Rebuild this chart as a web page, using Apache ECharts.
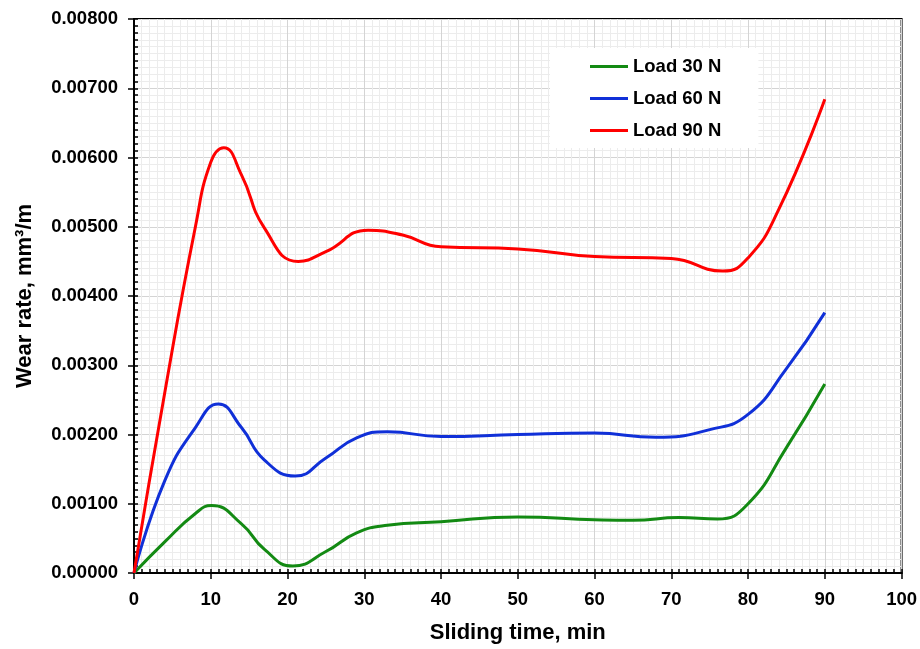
<!DOCTYPE html>
<html>
<head>
<meta charset="utf-8">
<script src="https://cdn.jsdelivr.net/npm/echarts@6/dist/echarts.min.js"></script>
<style>
  html, body { margin: 0; padding: 0; background: #fff; }
  #wearChart { width: 920px; height: 649px; }
</style>
</head>
<body>
<div id="wearChart"></div>
<script>
  // sliding time (min) and wear rate (mm3/m)
  var time30 = [0, 4, 8, 10.1, 14, 17, 20.7, 25, 29, 33, 40, 50, 60, 65, 71, 76, 80, 85, 90];
  var load30 = [0, 0.00045, 0.00086, 0.000975, 0.00071, 0.00034, 0.00010, 0.00031, 0.00058, 0.00069, 0.00074, 0.00081, 0.00077, 0.00076, 0.00080, 0.00078, 0.00100, 0.00181, 0.00273];
  var time60 = [0, 4, 8, 11, 14, 17, 21, 25, 29, 33, 40, 50, 60, 68, 75, 80, 85, 90];
  var load60 = [0, 0.00133, 0.00210, 0.00244, 0.00210, 0.00163, 0.00140, 0.00166, 0.00195, 0.00204, 0.00197, 0.00200, 0.00202, 0.00196, 0.00207, 0.00229, 0.00295, 0.00376];
  var time90 = [0, 4, 8, 10, 11.7, 14, 17, 21.4, 25, 30.5, 35, 40, 50, 60, 70, 76.7, 80, 84, 90];
  var load90 = [0, 0.00260, 0.00500, 0.00593, 0.00614, 0.00575, 0.00498, 0.00450, 0.00464, 0.00495, 0.00488, 0.00471, 0.00468, 0.00457, 0.00454, 0.00436, 0.00455, 0.00525, 0.00684];
  var seriesNames = ["Load 30 N", "Load 60 N", "Load 90 N"];
  var seriesColors = ["#138a13", "#1030d8", "#ff0000"];

  function pairs(times, vals) {
    return times.map(function (t, i) { return [t, vals[i]]; });
  }

  var font = "Liberation Sans, Arial, sans-serif";
  var myChart = echarts.init(document.getElementById("wearChart"));
  myChart.setOption({
    backgroundColor: "#ffffff",
    animation: false,
    grid: {
      left: 134,
      right: 18,
      top: 19,
      bottom: 69,
      show: true,
      borderColor: "#000",
      borderWidth: 2,
    },
    legend: {
      orient: "vertical",
      left: 550,
      top: 48,
      padding: [9, 37, 8, 40],
      itemGap: 13,
      itemWidth: 38,
      itemHeight: 3,
      icon: "rect",
      backgroundColor: "#ffffff",
      data: seriesNames,
      textStyle: { fontFamily: font, fontSize: 18.5, fontWeight: "bold", color: "#000" },
    },
    xAxis: [
      {
        type: "value",
        min: 0,
        max: 100,
        interval: 10,
        name: "Sliding time, min",
        nameLocation: "middle",
        nameGap: 49,
        nameTextStyle: { fontFamily: font, fontSize: 22, fontWeight: "bold", color: "#000" },
        axisLine: { show: true, lineStyle: { color: "#000", width: 2 } },
        axisTick: { show: true, inside: false, length: 6, lineStyle: { color: "#000", width: 1.5 } },
        axisLabel: { fontFamily: font, fontSize: 18.5, fontWeight: "bold", color: "#000", margin: 17 },
        splitLine: { show: true, lineStyle: { color: "#d4d4d4", width: 1 } },
        minorTick: { show: false, splitNumber: 10 },
        minorSplitLine: { show: true, lineStyle: { color: "#ececec", width: 1 } },
      },
      {
        // inner minor ticks
        type: "value",
        position: "bottom",
        min: 0,
        max: 100,
        interval: 1,
        axisLine: { show: false },
        axisTick: { show: true, inside: true, length: 4, lineStyle: { color: "#000", width: 1.5 } },
        axisLabel: { show: false },
        splitLine: { show: false },
      },
    ],
    yAxis: [
      {
        type: "value",
        min: 0,
        max: 0.008,
        interval: 0.001,
        name: "Wear rate, mm³/m",
        nameLocation: "middle",
        nameGap: 98,
        nameTextStyle: { fontFamily: font, fontSize: 22, fontWeight: "bold", color: "#000" },
        axisLine: { show: true, lineStyle: { color: "#000", width: 2 } },
        axisTick: { show: true, inside: false, length: 6, lineStyle: { color: "#000", width: 1.5 } },
        axisLabel: {
          fontFamily: font, fontSize: 18.5, fontWeight: "bold", color: "#000", margin: 16,
          formatter: function (v) { return v.toFixed(5); },
        },
        splitLine: { show: true, lineStyle: { color: "#d4d4d4", width: 1 } },
        minorTick: { show: false, splitNumber: 10 },
        minorSplitLine: { show: true, lineStyle: { color: "#ececec", width: 1 } },
      },
      {
        // inner minor ticks
        type: "value",
        position: "left",
        min: 0,
        max: 80,
        interval: 1,
        axisLine: { show: false },
        axisTick: { show: true, inside: true, length: 4, lineStyle: { color: "#000", width: 1.5 } },
        axisLabel: { show: false },
        splitLine: { show: false },
      },
    ],
    series: [
      [time30, load30],
      [time60, load60],
      [time90, load90],
    ].map(function (s, i) {
      return {
        name: seriesNames[i],
        type: "line",
        smooth: 0.5,
        symbol: "none",
        color: seriesColors[i],
        lineStyle: { color: seriesColors[i], width: 3 },
        data: pairs(s[0], s[1]),
        z: 5,
      };
    }),
  });
</script>
</body>
</html>
